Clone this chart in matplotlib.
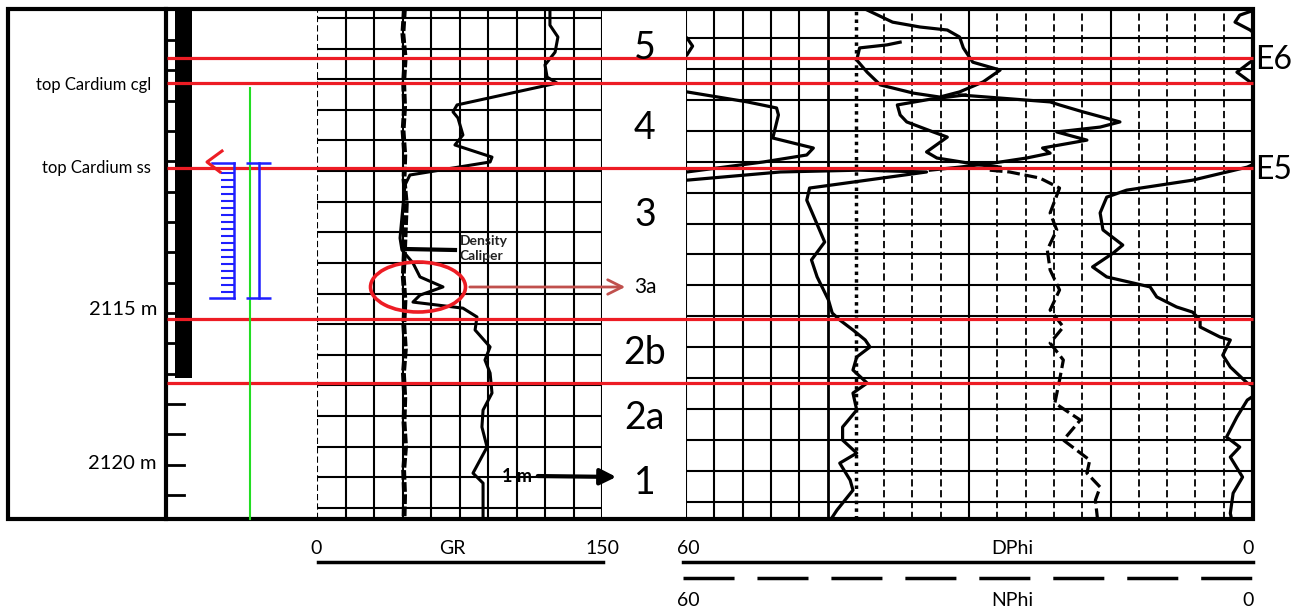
import numpy as np
import matplotlib.pyplot as plt
from matplotlib.patches import Ellipse, Rectangle

plt.rcParams['font.family'] = ['Lato', 'DejaVu Sans']

W, H = 1311, 615
PX_PER_M = 30.33
DEPTH_AT_TOP = 2104.68  # depth at the top pixel row of the picture


def depth_at(y):
    return DEPTH_AT_TOP + y / PX_PER_M


# GR track (API)
gr_depth = [2105.01, 2105.51, 2105.90, 2106.40, 2106.82, 2107.22, 2107.42, 2108.14, 2108.37, 2108.57,
            2109.13, 2109.46, 2109.86, 2110.02, 2110.45, 2110.78, 2111.44, 2112.53, 2112.92, 2113.35,
            2113.81, 2114.14, 2114.41, 2114.64, 2114.84, 2115.13, 2115.56, 2116.12, 2116.55, 2116.98,
            2117.64, 2118.20, 2118.76, 2119.42, 2120.28, 2120.61, 2121.89]
gr_value = [122.6, 122.6, 126.8, 125.3, 120.0, 121.1, 126.3, 73.7, 71.6, 74.2,
            76.8, 72.6, 92.1, 91.1, 48.9, 46.3, 45.3, 43.7, 44.7, 50.5,
            54.2, 66.3, 54.2, 50.5, 76.8, 84.2, 83.2, 91.1, 88.4, 91.1,
            92.1, 87.4, 86.8, 89.5, 82.1, 87.4, 87.4]

cal_depth = [2104.98, 2105.8, 2106.6, 2107.4, 2108.2, 2109.0, 2109.8, 2110.6, 2111.4, 2112.2, 2113.0,
             2113.8, 2114.6, 2115.4, 2116.2, 2117.0, 2117.8, 2118.6, 2119.4, 2120.2, 2121.0, 2121.8]
cal_value = [46.0, 45.2, 46.4, 45.6, 46.1, 45.3, 46.2, 45.8, 47.0, 46.5, 46.0,
             45.4, 46.3, 45.7, 46.5, 45.5, 46.2, 45.8, 46.6, 45.6, 46.1, 45.8]

# porosity track (%), solid pieces
dphi_a_value = [62.8, 61.7, 59.9, 59.3, 59.9, 61.7, 61.7, 59.9, 53.5, 50.4, 50.2, 50.8, 46.5, 47.2, 51.8, 59.9, 61.7]
dphi_a_depth = [2105.01, 2105.67, 2105.93, 2106.20, 2106.49, 2106.99, 2107.58, 2107.71, 2108.04, 2108.24,
                2108.47, 2109.23, 2109.56, 2109.79, 2110.02, 2110.35, 2110.48]

dphi_b_value = [61.7, 59.9, 50.0, 41.6, 34.5, 46.9, 47.2, 46.3, 45.3, 46.7, 46.1, 44.9, 44.5, 43.7, 42.3,
                41.0, 40.5, 41.9, 42.3, 40.8, 42.3, 41.9, 43.4, 43.4, 41.9, 43.7, 42.6, 42.3, 44.0, 44.7]
dphi_b_depth = [2110.71, 2110.62, 2110.35, 2110.29, 2110.35, 2110.88, 2111.28, 2111.93, 2112.66, 2113.25,
                2113.81, 2114.57, 2115.00, 2115.23, 2115.56, 2115.89, 2116.12, 2116.45, 2116.88, 2117.31,
                2117.64, 2118.20, 2118.76, 2119.19, 2119.62, 2119.95, 2120.51, 2120.84, 2121.50, 2121.83]

dphi_c_value = [40.8, 38.1, 35.2, 32.3, 31.0, 30.6, 29.6, 26.7, 28.5, 31.0, 33.1, 35.9, 39.4, 40.8, 41.9, 41.6, 38.7, 37.3]
dphi_c_depth = [2105.01, 2105.41, 2105.57, 2105.67, 2105.90, 2106.26, 2106.73, 2106.99, 2107.38, 2107.71,
                2107.88, 2107.75, 2107.48, 2107.06, 2106.66, 2106.26, 2106.16, 2106.07]

dphi_d_value = [30.4, 34.1, 37.6, 37.3, 36.6, 33.8, 32.3, 34.5, 33.4, 28.8, 26.7]
dphi_d_depth = [2107.81, 2107.95, 2108.14, 2108.47, 2108.70, 2109.03, 2109.20, 2109.69, 2109.89, 2110.12, 2110.19]

dphi_e_value = [31.0, 21.4, 20.4, 17.9, 14.0, 16.1, 20.7, 17.5, 22.2, 21.4, 23.9, 27.5, 31.0, 34.1]
dphi_e_depth = [2107.81, 2108.04, 2108.14, 2108.37, 2108.70, 2108.87, 2109.03, 2109.30, 2109.56, 2109.73,
                2109.89, 2110.06, 2110.19, 2110.29]

dphi_f_value = [-0.9, 1.3, 1.8, 0.2, -1.1, -1.1, 0.2, 1.6, 0.2, -1.1, -1.1, 0.5, 6.3, 13.3, 15.4, 16.1,
                15.8, 13.7, 14.7, 16.9, 15.4, 10.8, 10.1, 8.0, 6.3, 5.5, 5.5, 3.4, 2.3, 3.1, 2.3, 0.5,
                -1.1, 0.5, 1.6, 2.7, 1.3, 2.3, 1.0, 2.0, 2.3, 2.1]
dphi_f_depth = [2104.94, 2105.18, 2105.41, 2105.67, 2106.00, 2106.49, 2106.73, 2107.06, 2107.38, 2107.65,
                2109.96, 2110.19, 2110.62, 2110.95, 2111.18, 2111.70, 2112.26, 2112.76, 2113.02, 2113.48,
                2113.81, 2114.14, 2114.47, 2114.80, 2114.97, 2115.23, 2115.46, 2115.79, 2115.89, 2116.39,
                2116.78, 2117.31, 2117.54, 2117.87, 2118.43, 2119.09, 2119.42, 2119.75, 2120.41, 2120.94,
                2121.60, 2121.89]

# dashed curve
nphi_value = [27.8, 25.7, 22.5, 20.4, 21.4, 20.7, 21.7, 21.4, 20.4, 21.4, 20.0, 21.4, 20.0, 20.4, 20.9,
              18.2, 20.0, 17.2, 17.5, 16.1, 16.6, 16.4, 16.4]
nphi_depth = [2110.29, 2110.35, 2110.55, 2110.88, 2111.70, 2112.26, 2112.92, 2113.58, 2114.24, 2114.90,
              2115.46, 2115.99, 2116.55, 2117.21, 2117.97, 2118.53, 2119.19, 2119.85, 2120.28, 2120.74,
              2121.17, 2121.73, 2121.89]

# picks and labels
tops_depth = [2106.59, 2107.42, 2110.22, 2115.20, 2117.31]
zone_labels = ["5", "4", "3", "2b", "2a", "1"]
zone_depth = [2106.26, 2108.90, 2111.77, 2116.32, 2118.46, 2120.61]
marker_labels = ["E6", "E5"]
marker_depth = [2106.66, 2110.29]
formation_labels = ["top Cardium cgl", "top Cardium ss"]
formation_depth = [2107.48, 2110.22]
depth_labels = ["2115 m", "2120 m"]
depth_label_depth = [2114.90, 2119.95]
depth_ticks = list(range(2106, 2122))

RED = '#ed1c24'
BLUE = '#1f1fff'

fig = plt.figure(figsize=(W / 100, H / 100), dpi=100)


def track_axes(x0, x1, y0=9, y1=519):
    ax = fig.add_axes([x0 / W, 1 - y1 / H, (x1 - x0) / W, (y1 - y0) / H], zorder=2)
    ax.set_ylim(depth_at(y1), depth_at(y0))
    ax.axis('off')
    return ax


# GR track
ax_gr = track_axes(317, 602)
ax_gr.set_xlim(0, 150)
for v in np.arange(0, 151, 15):
    ax_gr.axvline(v, color='k', lw=1.5, ls='-' if v > 0 else (0, (3, 1.5)))
for d in np.arange(2105.27, 2122, 1.01):
    ax_gr.axhline(d, color='k', lw=1.5)
ax_gr.plot(cal_value, cal_depth, color='k', lw=3.5, ls=(0, (2, 0.5)))
ax_gr.plot(gr_value, gr_depth, color='k', lw=2.2)

# porosity track
ax_ph = track_axes(686, 1252)
ax_ph.set_xlim(60, 0)
for k in range(21):
    v = 60 - 3 * k
    if k <= 5 or k in (10, 15):
        ax_ph.axvline(v, color='k', lw=2.0 if k == 5 else 1.5)
    elif k == 6:
        ax_ph.axvline(v, color='k', lw=2.5, ls=(0, (1, 1.2)))
    else:
        ax_ph.axvline(v, color='k', lw=1.3, ls=(0, (4, 2)))
for d in np.arange(2105.93, 2122, 1.02):
    ax_ph.axhline(d, color='k', lw=1.5)
for vals, deps in [(dphi_a_value, dphi_a_depth), (dphi_b_value, dphi_b_depth),
                   (dphi_c_value, dphi_c_depth), (dphi_d_value, dphi_d_depth),
                   (dphi_e_value, dphi_e_depth), (dphi_f_value, dphi_f_depth)]:
    ax_ph.plot(vals, deps, color='k', lw=2.3)
ax_ph.plot(nphi_value, nphi_depth, color='k', lw=2.3, ls=(0, (4, 1.5)))

# overlay: x in pixels, y in depth
ov = fig.add_axes([0, 0, 1, 1], zorder=10)
ov.set_xlim(0, W)
ov.set_ylim(depth_at(H), depth_at(0))
ov.axis('off')
ov.patch.set_alpha(0)

top, bot = depth_at(9), depth_at(519)
ov.add_patch(Rectangle((8, top), 1253 - 8, bot - top, fill=False, lw=3, ec='k'))
ov.plot([166, 166], [top, bot], color='k', lw=3)
bar_bottom = depth_at(378)
ov.add_patch(Rectangle((175, top), 17, bar_bottom - top, fc='k', ec='none'))
for d in depth_ticks:
    ov.plot([167, 178 if d < bar_bottom else 184], [d, d], color='k', lw=2)

ov.hlines(tops_depth, 167, 1253, color=RED, lw=2.3)

# annotation symbols
ov.plot([250, 250], [depth_at(88), bot], color='#22dd22', lw=1.5)
c_top, c_bot = depth_at(163), depth_at(298)
ov.plot([234, 234], [c_top, c_bot], color=BLUE, lw=1.8)
ov.plot([212, 234], [c_top, c_top], color=BLUE, lw=1.8)
ov.plot([210, 234], [c_bot, c_bot], color=BLUE, lw=1.8)
ov.hlines([depth_at(y) for y in range(173, 296, 7)], 221, 234, color=BLUE, lw=1.5)
ov.plot([222, 207, 220], [depth_at(151), depth_at(162), depth_at(172)], color=RED, lw=2.2)
ov.plot([259, 259], [c_top, c_bot], color=BLUE, lw=1.8)
ov.hlines([c_top, c_bot], 246, 271, color=BLUE, lw=1.8)

for lab, d in zip(formation_labels, formation_depth):
    ov.text(151, d, lab, ha='right', va='center', fontsize=12)
for lab, d in zip(depth_labels, depth_label_depth):
    ov.text(157, d, lab, ha='right', va='center', fontsize=14.5)
for lab, d in zip(zone_labels, zone_depth):
    ov.text(645, d, lab, ha='center', va='center', fontsize=27)
for lab, d in zip(marker_labels, marker_depth):
    ov.text(1255, d, lab, ha='left', va='center', fontsize=23)

# 3a callout
d3a = depth_at(287)
ov.add_patch(Ellipse((418, d3a), 95, 50 / PX_PER_M, fill=False, ec=RED, lw=2.6))
ov.annotate('', xy=(628, d3a), xytext=(467, d3a),
            arrowprops=dict(arrowstyle='->', color='#c0504d', lw=2, mutation_scale=26))
ov.text(634, d3a, '3a', ha='left', va='center', fontsize=15)

ov.plot([405, 455], [depth_at(249), depth_at(250)], color='k', lw=3)
ov.text(460, depth_at(249), 'Density\nCaliper', ha='left', va='center', fontsize=10,
        fontweight='bold', linespacing=1.3, color='#222222')
ov.text(517, depth_at(476), '1 m', ha='center', va='center', fontsize=13, fontweight='bold')
ov.annotate('', xy=(619, depth_at(477)), xytext=(535, depth_at(476)),
            arrowprops=dict(arrowstyle='-|>', color='k', lw=3, mutation_scale=24))

# scale legends under the tracks
y1, y2, y3, y4 = depth_at(548), depth_at(562), depth_at(578), depth_at(600)
ov.text(316, y1, '0', ha='center', va='center', fontsize=14)
ov.text(452, y1, 'GR', ha='center', va='center', fontsize=14)
ov.text(602, y1, '150', ha='center', va='center', fontsize=14)
ov.plot([318, 603], [y2, y2], color='k', lw=2.5)
ov.text(688, y1, '60', ha='center', va='center', fontsize=14)
ov.text(1012, y1, 'DPhi', ha='center', va='center', fontsize=14)
ov.text(1248, y1, '0', ha='center', va='center', fontsize=14)
ov.plot([683, 1253], [y2, y2], color='k', lw=2.5)
ov.plot([683, 1253], [y3, y3], color='k', lw=2.5, ls=(0, (14.7, 6.6)))
ov.text(688, y4, '60', ha='center', va='center', fontsize=14)
ov.text(1012, y4, 'NPhi', ha='center', va='center', fontsize=14)
ov.text(1248, y4, '0', ha='center', va='center', fontsize=14)

fig.savefig('out.png', dpi=100)
